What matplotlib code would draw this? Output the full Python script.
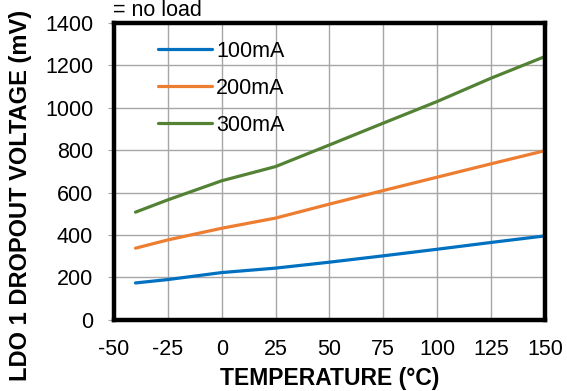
import matplotlib
matplotlib.use('Agg')
import matplotlib.pyplot as plt

plt.rcParams['font.family'] = ['Liberation Sans', 'DejaVu Sans']
plt.rcParams['axes.unicode_minus'] = False

# Dropout voltage (mV) vs temperature (C) for three load currents
temp = [-40, -25, 0, 25, 50, 75, 100, 125, 150]
v_100mA = [174, 190, 223, 244, 272, 302, 333, 365, 396]
v_200mA = [338, 377, 432, 480, 546, 610, 673, 736, 798]
v_300mA = [508, 566, 656, 723, 825, 928, 1030, 1140, 1242]

series = [
    ('100mA', v_100mA, '#0070C0'),
    ('200mA', v_200mA, '#ED7D31'),
    ('300mA', v_300mA, '#548235'),
]

fig = plt.figure(figsize=(5.67, 3.91), dpi=100)
ax = fig.add_axes([0.201, 0.182, 0.760, 0.759])

for label, vals, color in series:
    ax.plot(temp, vals, color=color, lw=2.3, label=label, solid_capstyle='round')

ax.set_xlim(-50, 150)
ax.set_ylim(0, 1400)
ax.set_xticks(range(-50, 151, 25))
ax.set_yticks(range(0, 1401, 200))
ax.grid(True, color='#a6a6a6', lw=1.0)
ax.set_axisbelow(True)
for s in ax.spines.values():
    s.set_linewidth(3.2)
    s.set_color('black')
ax.tick_params(axis='both', labelsize=15.5, colors='black')
ax.tick_params(axis='y', length=4, color='#a6a6a6', pad=11)
ax.tick_params(axis='x', length=0, pad=14)

ax.set_xlabel('TEMPERATURE (°C)', fontsize=16.5, fontweight='bold', labelpad=5)
ax.set_ylabel('LDO 1 DROPOUT VOLTAGE (mV)', fontsize=17, fontweight='bold')
ax.yaxis.set_label_coords(-0.19, 0.42)

leg = ax.legend(loc='center left', bbox_to_anchor=(0.082, 0.78), frameon=False,
                fontsize=15.5, handlelength=2.5, handletextpad=0.2, labelspacing=0.75,
                borderaxespad=0)

fig.text(0.199, 1.0, '= no load', fontsize=15.5, ha='left', va='top')

fig.savefig('out.png', dpi=100)
